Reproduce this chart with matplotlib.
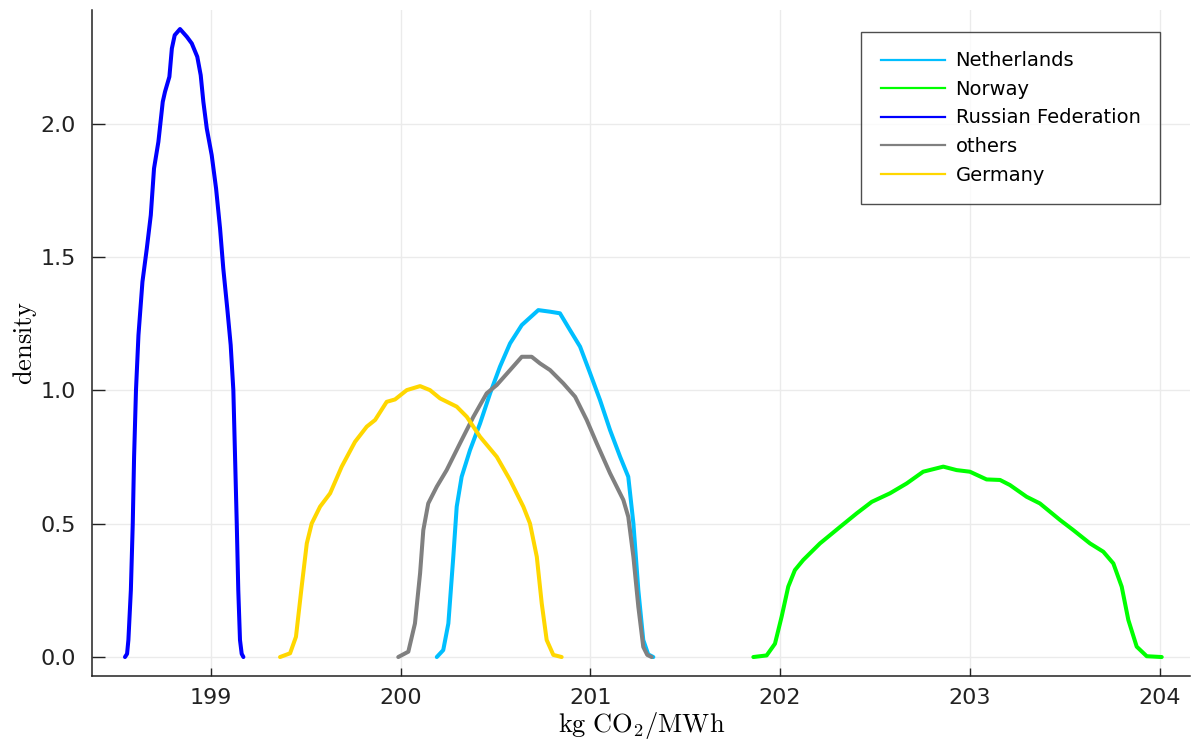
import matplotlib.pyplot as plt
from matplotlib.lines import Line2D

plt.rcParams['mathtext.fontset'] = 'cm'
plt.rcParams['font.family'] = ['DejaVu Sans']

# Datos (densidad estimada por pais)
paises = ["Netherlands", "Norway", "Russian Federation", "others", "Germany"]
colores = ["#00BFFF", "#00FF00", "#0000FF", "#808080", "#FFD700"]

x_netherlands = [200.191, 200.225, 200.252, 200.278, 200.296, 200.322, 200.366, 200.419, 200.472,
                 200.524, 200.577, 200.639, 200.726, 200.788, 200.840, 200.893, 200.946, 200.999,
                 201.051, 201.104, 201.157, 201.200, 201.227, 201.253, 201.279, 201.305, 201.332]
y_netherlands = [0.0, 0.026, 0.126, 0.376, 0.564, 0.676, 0.776, 0.876, 0.989,
                 1.089, 1.176, 1.245, 1.301, 1.295, 1.289, 1.226, 1.164, 1.064,
                 0.964, 0.851, 0.751, 0.676, 0.501, 0.251, 0.064, 0.010, 0.0]

x_norway = [201.859, 201.929, 201.973, 202.008, 202.043, 202.078, 202.122, 202.210, 202.316,
            202.404, 202.483, 202.579, 202.667, 202.754, 202.860, 202.930, 203.000, 203.088,
            203.159, 203.211, 203.299, 203.369, 203.475, 203.545, 203.633, 203.703, 203.756,
            203.800, 203.835, 203.879, 203.932, 204.011]
y_norway = [0.0, 0.006, 0.050, 0.151, 0.264, 0.326, 0.364, 0.426, 0.488,
            0.539, 0.582, 0.614, 0.651, 0.695, 0.714, 0.701, 0.695, 0.666,
            0.664, 0.645, 0.601, 0.576, 0.514, 0.476, 0.426, 0.395, 0.351,
            0.264, 0.139, 0.039, 0.003, 0.0]

x_russia = [198.548, 198.559, 198.566, 198.579, 198.589, 198.596, 198.606, 198.619, 198.640,
            198.663, 198.684, 198.701, 198.724, 198.747, 198.759, 198.782, 198.795, 198.810,
            198.838, 198.874, 198.900, 198.929, 198.947, 198.961, 198.979, 199.005, 199.028,
            199.049, 199.066, 199.087, 199.105, 199.119, 199.128, 199.137, 199.145, 199.154,
            199.163, 199.172]
y_russia = [0.0, 0.012, 0.064, 0.251, 0.501, 0.751, 1.001, 1.207, 1.407,
            1.532, 1.657, 1.832, 1.932, 2.082, 2.120, 2.176, 2.282, 2.332,
            2.355, 2.326, 2.301, 2.251, 2.182, 2.082, 1.982, 1.882, 1.757,
            1.607, 1.457, 1.307, 1.170, 1.001, 0.751, 0.500, 0.251, 0.064,
            0.012, 0.0]

x_others = [199.988, 200.041, 200.076, 200.103, 200.120, 200.146, 200.191, 200.243, 200.313,
            200.384, 200.454, 200.507, 200.577, 200.639, 200.691, 200.735, 200.788, 200.858,
            200.920, 200.981, 201.034, 201.104, 201.174, 201.200, 201.227, 201.253, 201.279,
            201.300, 201.323]
y_others = [0.0, 0.020, 0.126, 0.314, 0.476, 0.576, 0.639, 0.701, 0.801,
            0.901, 0.989, 1.020, 1.076, 1.126, 1.126, 1.101, 1.076, 1.026,
            0.976, 0.889, 0.801, 0.689, 0.589, 0.526, 0.376, 0.189, 0.038,
            0.008, 0.0]

x_germany = [199.365, 199.418, 199.449, 199.479, 199.506, 199.532, 199.576, 199.629, 199.690,
             199.760, 199.822, 199.866, 199.927, 199.971, 200.033, 200.103, 200.155, 200.208,
             200.296, 200.349, 200.419, 200.507, 200.577, 200.647, 200.682, 200.718, 200.744,
             200.770, 200.805, 200.849]
y_germany = [0.0, 0.014, 0.076, 0.264, 0.426, 0.501, 0.564, 0.614, 0.714,
             0.807, 0.864, 0.889, 0.957, 0.966, 1.001, 1.016, 1.001, 0.970,
             0.939, 0.901, 0.826, 0.751, 0.664, 0.564, 0.501, 0.376, 0.201,
             0.064, 0.008, 0.0]

xticks = [199, 200, 201, 202, 203, 204]
yticks = [0.0, 0.5, 1.0, 1.5, 2.0]
ytick_labels = ["0.0", "0.5", "1.0", "1.5", "2.0"]

series = [(x_netherlands, y_netherlands), (x_norway, y_norway), (x_russia, y_russia),
          (x_others, y_others), (x_germany, y_germany)]

fig = plt.figure(figsize=(11.93, 7.46), dpi=100)
ax = fig.add_axes([0.0774, 0.0942, 0.9201, 0.8924])

# Curvas de densidad
for (xs, ys), nombre, color in zip(series, paises, colores):
    ax.plot(xs, ys, color=color, linewidth=2.9, label=nombre,
            solid_capstyle='round', solid_joinstyle='round')

ax.set_xlim(198.376, 204.16)
ax.set_ylim(-0.0701, 2.4264)
ax.set_xticks(xticks)
ax.set_yticks(yticks)
ax.set_yticklabels(ytick_labels)
ax.grid(True, color='#ebebeb', linewidth=1.0)
ax.set_axisbelow(True)

for lado in ['top', 'right']:
    ax.spines[lado].set_visible(False)
for lado in ['left', 'bottom']:
    ax.spines[lado].set_linewidth(1.1)
    ax.spines[lado].set_color('#222222')

ax.tick_params(axis='both', direction='in', labelsize=16, colors='#222222', width=1.0)
ax.tick_params(axis='y', length=9, pad=12)
ax.tick_params(axis='x', length=6, pad=9)

ax.set_xlabel(r'$\mathrm{kg\ CO_2/MWh}$', fontsize=19, labelpad=1)
ax.set_ylabel(r'$\mathrm{density}$', fontsize=19, labelpad=1)

# Leyenda con lineas finas
handles = [Line2D([0], [0], color=c, linewidth=1.6) for c in colores]
leg = ax.legend(handles, paises, loc='upper right', bbox_to_anchor=(0.9726, 0.967),
                borderaxespad=0, fontsize=14, frameon=True, fancybox=False,
                handlelength=3.3, handletextpad=0.55, labelspacing=0.49,
                borderpad=1.0)
leg.get_frame().set_edgecolor('#222222')
leg.get_frame().set_linewidth(1.0)

plt.savefig('out.png', dpi=100)
